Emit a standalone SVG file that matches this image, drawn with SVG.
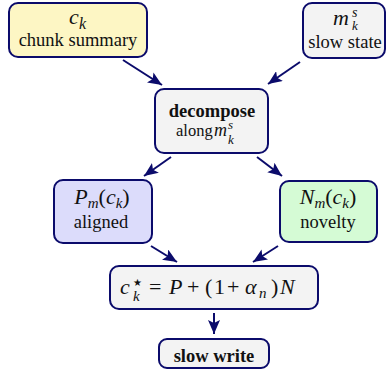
<svg xmlns="http://www.w3.org/2000/svg" width="389" height="373" viewBox="0 0 389 373">
<style>
.box{stroke:#0b0b6b;stroke-width:2}
text{font-family:"Liberation Serif","Times New Roman",serif;fill:#111}
.t{font-size:18.5px;text-anchor:middle}
.b{font-weight:bold}
.m{font-style:italic}
.c{stroke:#0b0b6b;stroke-width:2;fill:none}
</style>
<defs>
<marker id="a" viewBox="0 0 14 12" refX="14" refY="6" markerWidth="14" markerHeight="12" orient="auto" markerUnits="userSpaceOnUse">
<path d="M0,0 L14,6 L0,12 L3,6 z" fill="#0b0b6b"/>
</marker>
</defs>
<g id="connectors">
<line class="c" x1="123" y1="60" x2="162" y2="85" marker-end="url(#a)"/>
<line class="c" x1="300" y1="62" x2="268" y2="84" marker-end="url(#a)"/>
<line class="c" x1="171" y1="157" x2="144" y2="176" marker-end="url(#a)"/>
<line class="c" x1="257" y1="157" x2="282" y2="176" marker-end="url(#a)"/>
<line class="c" x1="151" y1="246" x2="177" y2="262" marker-end="url(#a)"/>
<line class="c" x1="278" y1="246" x2="253" y2="262" marker-end="url(#a)"/>
<line class="c" x1="214" y1="313" x2="214" y2="334" marker-end="url(#a)"/>
</g>
<g id="ck">
<rect class="box" x="9" y="3" width="138" height="54" rx="9" fill="#fdf6c4"/>
<text class="m" x="69" y="24" font-size="22">c</text>
<text class="m" x="79" y="29" font-size="16">k</text>
<text class="t" x="78" y="46">chunk summary</text>
</g>
<g id="mks">
<rect class="box" x="303" y="3" width="82" height="55" rx="9" fill="#f3f3f3"/>
<text class="m" x="333" y="25" font-size="22">m</text>
<text class="m" x="352" y="17" font-size="14">s</text>
<text class="m" x="352" y="30" font-size="13">k</text>
<text class="t" x="345" y="48">slow state</text>
</g>
<g id="decompose">
<rect class="box" x="155" y="89" width="113" height="64" rx="9" fill="#f3f3f3"/>
<text class="t b" x="212" y="117" font-size="20">decompose</text>
<text x="176" y="136" font-size="16.5">along</text>
<text class="m" x="214" y="136" font-size="18">m</text>
<text class="m" x="228" y="129" font-size="13">s</text>
<text class="m" x="228" y="144" font-size="13">k</text>
</g>
<g id="P">
<rect class="box" x="54" y="180" width="98" height="63" rx="9" fill="#dcdcfb"/>
<text class="m" x="102" y="204" font-size="22" text-anchor="middle">P<tspan font-size="15" dy="4">m</tspan><tspan font-style="normal" dy="-4">(</tspan>c<tspan font-size="15" dy="4">k</tspan><tspan font-style="normal" dy="-4">)</tspan></text>
<text class="t" x="101" y="228">aligned</text>
</g>
<g id="N">
<rect class="box" x="280" y="181" width="97" height="61" rx="9" fill="#d5fbd5"/>
<text class="m" x="328" y="204" font-size="22" text-anchor="middle">N<tspan font-size="15" dy="4">m</tspan><tspan font-style="normal" dy="-4">(</tspan>c<tspan font-size="15" dy="4">k</tspan><tspan font-style="normal" dy="-4">)</tspan></text>
<text class="t" x="328" y="228">novelty</text>
</g>
<g id="formula">
<rect class="box" x="110" y="266" width="208" height="43" rx="9" fill="#f3f3f3"/>
<text class="m" x="120" y="294" font-size="22">c</text>
<text x="133" y="286" style="font-family:'DejaVu Sans',sans-serif" font-size="10">★</text>
<text class="m" x="133" y="301" font-size="15">k</text>
<text x="149" y="294" font-size="22">=</text>
<text class="m" x="169" y="294" font-size="22">P</text>
<text x="187" y="294" font-size="22">+</text>
<text x="205" y="294" font-size="22">(</text>
<text x="214" y="294" font-size="22">1</text>
<text x="227" y="294" font-size="22">+</text>
<text class="m" x="245" y="294" font-size="22">α</text>
<text class="m" x="259" y="298" font-size="15">n</text>
<text x="271" y="294" font-size="22">)</text>
<text class="m" x="280" y="294" font-size="22">N</text>
</g>
<g id="slowwrite">
<rect class="box" x="159" y="339" width="110" height="29" rx="8" fill="#f3f3f3"/>
<text class="t b" x="214" y="362" font-size="20.5">slow write</text>
</g>
</svg>
